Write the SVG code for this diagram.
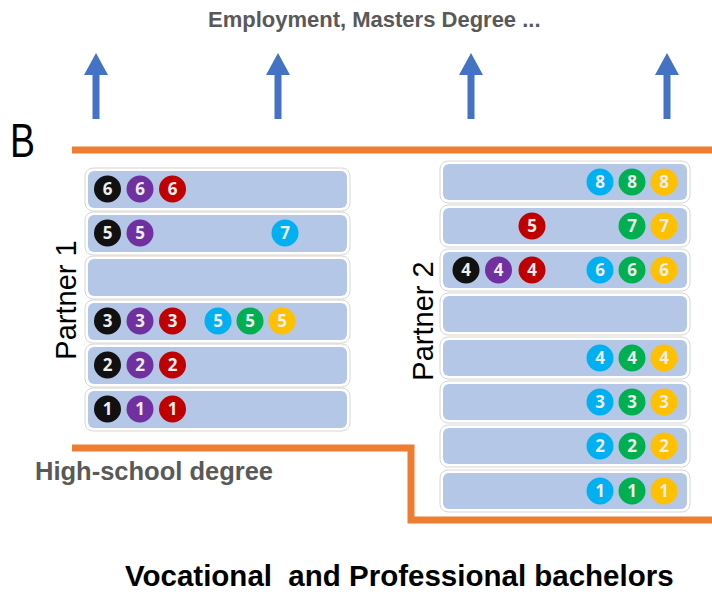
<svg xmlns="http://www.w3.org/2000/svg" width="712" height="596" viewBox="0 0 712 596">
<defs>
<style>
.row-o{fill:#ffffff;stroke:#d6d6d6;stroke-width:1}
.row-i{fill:#B4C7E7}
.dot text{font-family:"Open Sans","Liberation Sans",sans-serif;font-weight:bold;font-size:17px;fill:#eeeeee;text-anchor:middle}
.k{fill:#111111}.p{fill:#7030A0}.r{fill:#C00000}.c{fill:#00B0F0}.g{fill:#00B050}.y{fill:#FFC000}
.orange{fill:none;stroke:#ED7D31;stroke-width:7}
.arrow{fill:#4472C4}
.lbl{font-family:"Liberation Sans",Arial,sans-serif}
</style>
<g id="arrowShape"><rect x="-3.5" y="74" width="7" height="45"/><polygon points="0,53 12,75 -12,75"/></g>
</defs>
<rect width="712" height="596" fill="#ffffff"/>

<g id="connectors">
<use href="#arrowShape" class="arrow" x="96" y="0"/>
<use href="#arrowShape" class="arrow" x="278" y="0"/>
<use href="#arrowShape" class="arrow" x="471" y="0"/>
<use href="#arrowShape" class="arrow" x="667" y="0"/>
</g>

<g id="boundaries">
<path class="orange" d="M72 150 H712"/>
<path class="orange" d="M72 448 H411 V520 H712"/>
</g>

<g id="labels">
<text id="label-top" class="lbl" x="208" y="27" font-size="22" font-weight="bold" fill="#595959">Employment, Masters Degree ...</text>
<text id="label-B" class="lbl" transform="translate(10 157) scale(0.78 1)" font-size="48" fill="#000000">B</text>
<text id="label-hs" class="lbl" x="35" y="480" font-size="25.5" font-weight="bold" fill="#595959">High-school degree</text>
<text id="label-voc" class="lbl" x="125" y="586" font-size="29.5" font-weight="bold" fill="#000000" xml:space="preserve">Vocational  and Professional bachelors</text>
<text id="label-p1" class="lbl" transform="translate(76 300) rotate(-90)" font-size="29" text-anchor="middle" fill="#000000">Partner 1</text>
<text id="label-p2" class="lbl" transform="translate(433 321) rotate(-90)" font-size="29" text-anchor="middle" fill="#000000">Partner 2</text>
</g>

<g id="partner1">
<g id="p1-row6">
<rect class="row-o" x="85" y="168" width="265" height="43" rx="8"/>
<rect class="row-i" x="88" y="171" width="259" height="37" rx="6"/>
<g class="dot"><circle class="k" cx="107.5" cy="189" r="13.5"/><text x="107.5" y="195">6</text></g>
<g class="dot"><circle class="p" cx="140" cy="189" r="13.5"/><text x="140" y="195">6</text></g>
<g class="dot"><circle class="r" cx="172.5" cy="189" r="13.5"/><text x="172.5" y="195">6</text></g>
</g>
<g id="p1-row5">
<rect class="row-o" x="85" y="212" width="265" height="43" rx="8"/>
<rect class="row-i" x="88" y="215" width="259" height="37" rx="6"/>
<g class="dot"><circle class="k" cx="107.5" cy="233" r="13.5"/><text x="107.5" y="239">5</text></g>
<g class="dot"><circle class="p" cx="140" cy="233" r="13.5"/><text x="140" y="239">5</text></g>
<g class="dot"><circle class="c" cx="285" cy="233" r="13.5"/><text x="285" y="239">7</text></g>
</g>
<g id="p1-row4">
<rect class="row-o" x="85" y="256" width="265" height="43" rx="8"/>
<rect class="row-i" x="88" y="259" width="259" height="37" rx="6"/>
</g>
<g id="p1-row3">
<rect class="row-o" x="85" y="300" width="265" height="43" rx="8"/>
<rect class="row-i" x="88" y="303" width="259" height="37" rx="6"/>
<g class="dot"><circle class="k" cx="107.5" cy="321" r="13.5"/><text x="107.5" y="327">3</text></g>
<g class="dot"><circle class="p" cx="140" cy="321" r="13.5"/><text x="140" y="327">3</text></g>
<g class="dot"><circle class="r" cx="172.5" cy="321" r="13.5"/><text x="172.5" y="327">3</text></g>
<g class="dot"><circle class="c" cx="218" cy="321" r="13.5"/><text x="218" y="327">5</text></g>
<g class="dot"><circle class="g" cx="250" cy="321" r="13.5"/><text x="250" y="327">5</text></g>
<g class="dot"><circle class="y" cx="282" cy="321" r="13.5"/><text x="282" y="327">5</text></g>
</g>
<g id="p1-row2">
<rect class="row-o" x="85" y="344" width="265" height="43" rx="8"/>
<rect class="row-i" x="88" y="347" width="259" height="37" rx="6"/>
<g class="dot"><circle class="k" cx="107.5" cy="365" r="13.5"/><text x="107.5" y="371">2</text></g>
<g class="dot"><circle class="p" cx="140" cy="365" r="13.5"/><text x="140" y="371">2</text></g>
<g class="dot"><circle class="r" cx="172.5" cy="365" r="13.5"/><text x="172.5" y="371">2</text></g>
</g>
<g id="p1-row1">
<rect class="row-o" x="85" y="388" width="265" height="43" rx="8"/>
<rect class="row-i" x="88" y="391" width="259" height="37" rx="6"/>
<g class="dot"><circle class="k" cx="107.5" cy="409" r="13.5"/><text x="107.5" y="415">1</text></g>
<g class="dot"><circle class="p" cx="140" cy="409" r="13.5"/><text x="140" y="415">1</text></g>
<g class="dot"><circle class="r" cx="172.5" cy="409" r="13.5"/><text x="172.5" y="415">1</text></g>
</g>
</g>

<g id="partner2">
<g id="p2-row8">
<rect class="row-o" x="440" y="161" width="250" height="42" rx="8"/>
<rect class="row-i" x="443" y="164" width="244" height="36" rx="6"/>
<g class="dot"><circle class="c" cx="600" cy="182" r="13.5"/><text x="600" y="188">8</text></g>
<g class="dot"><circle class="g" cx="632" cy="182" r="13.5"/><text x="632" y="188">8</text></g>
<g class="dot"><circle class="y" cx="664" cy="182" r="13.5"/><text x="664" y="188">8</text></g>
</g>
<g id="p2-row7">
<rect class="row-o" x="440" y="205" width="250" height="42" rx="8"/>
<rect class="row-i" x="443" y="208" width="244" height="36" rx="6"/>
<g class="dot"><circle class="r" cx="532" cy="226" r="13.5"/><text x="532" y="232">5</text></g>
<g class="dot"><circle class="g" cx="632" cy="226" r="13.5"/><text x="632" y="232">7</text></g>
<g class="dot"><circle class="y" cx="664" cy="226" r="13.5"/><text x="664" y="232">7</text></g>
</g>
<g id="p2-row6">
<rect class="row-o" x="440" y="249" width="250" height="42" rx="8"/>
<rect class="row-i" x="443" y="252" width="244" height="36" rx="6"/>
<g class="dot"><circle class="k" cx="466" cy="270" r="13.5"/><text x="466" y="276">4</text></g>
<g class="dot"><circle class="p" cx="498.5" cy="270" r="13.5"/><text x="498.5" y="276">4</text></g>
<g class="dot"><circle class="r" cx="532" cy="270" r="13.5"/><text x="532" y="276">4</text></g>
<g class="dot"><circle class="c" cx="600" cy="270" r="13.5"/><text x="600" y="276">6</text></g>
<g class="dot"><circle class="g" cx="632" cy="270" r="13.5"/><text x="632" y="276">6</text></g>
<g class="dot"><circle class="y" cx="664" cy="270" r="13.5"/><text x="664" y="276">6</text></g>
</g>
<g id="p2-row5">
<rect class="row-o" x="440" y="293" width="250" height="42" rx="8"/>
<rect class="row-i" x="443" y="296" width="244" height="36" rx="6"/>
</g>
<g id="p2-row4">
<rect class="row-o" x="440" y="337" width="250" height="42" rx="8"/>
<rect class="row-i" x="443" y="340" width="244" height="36" rx="6"/>
<g class="dot"><circle class="c" cx="600" cy="358" r="13.5"/><text x="600" y="364">4</text></g>
<g class="dot"><circle class="g" cx="632" cy="358" r="13.5"/><text x="632" y="364">4</text></g>
<g class="dot"><circle class="y" cx="664" cy="358" r="13.5"/><text x="664" y="364">4</text></g>
</g>
<g id="p2-row3">
<rect class="row-o" x="440" y="381" width="250" height="42" rx="8"/>
<rect class="row-i" x="443" y="384" width="244" height="36" rx="6"/>
<g class="dot"><circle class="c" cx="600" cy="402" r="13.5"/><text x="600" y="408">3</text></g>
<g class="dot"><circle class="g" cx="632" cy="402" r="13.5"/><text x="632" y="408">3</text></g>
<g class="dot"><circle class="y" cx="664" cy="402" r="13.5"/><text x="664" y="408">3</text></g>
</g>
<g id="p2-row2">
<rect class="row-o" x="440" y="425" width="250" height="42" rx="8"/>
<rect class="row-i" x="443" y="428" width="244" height="36" rx="6"/>
<g class="dot"><circle class="c" cx="600" cy="446" r="13.5"/><text x="600" y="452">2</text></g>
<g class="dot"><circle class="g" cx="632" cy="446" r="13.5"/><text x="632" y="452">2</text></g>
<g class="dot"><circle class="y" cx="664" cy="446" r="13.5"/><text x="664" y="452">2</text></g>
</g>
<g id="p2-row1">
<rect class="row-o" x="440" y="470" width="250" height="42" rx="8"/>
<rect class="row-i" x="443" y="473" width="244" height="36" rx="6"/>
<g class="dot"><circle class="c" cx="600" cy="491" r="13.5"/><text x="600" y="497">1</text></g>
<g class="dot"><circle class="g" cx="632" cy="491" r="13.5"/><text x="632" y="497">1</text></g>
<g class="dot"><circle class="y" cx="664" cy="491" r="13.5"/><text x="664" y="497">1</text></g>
</g>
</g>
</svg>
